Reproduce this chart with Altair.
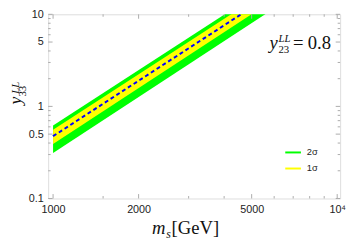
import altair as alt
import pandas as pd

# ---- data ----
m_ends = [1000, 6000]
center = [0.475, 17.1]
sig1_lo = [0.39, 14.5]
sig1_hi = [0.558, 20.1]
sig2_lo = [0.311, 11.6]
sig2_hi = [0.619, 22.3]
band_names = ["2σ", "1σ"]
band_colors = ["#00ff00", "#ffff00"]

x_major = [1000, 2000, 5000, 10000]
x_minor = [1500, 3000, 4000, 6000, 7000, 8000, 9000]
y_major = [0.1, 0.5, 1, 5, 10]
y_minor = [0.2, 0.3, 0.4, 0.6, 0.7, 0.8, 0.9, 2, 3, 4, 6, 7, 8, 9]

W, H = 298, 188
FRAME = "#ababab"
LBL = "#222222"
SERIF = "Liberation Serif"
SANS = "Liberation Sans"

xscale = alt.Scale(type="log", domain=[961, 10240], nice=False)
yscale = alt.Scale(type="log", domain=[0.1, 10], nice=False)

bands = pd.DataFrame({"m": m_ends, "c": center, "lo1": sig1_lo, "hi1": sig1_hi,
                      "lo2": sig2_lo, "hi2": sig2_hi})

xaxis = alt.Axis(values=x_major, title=None, ticks=False, tickSize=0, domain=False, grid=False,
                 labelFont=SANS, labelFontSize=11, labelColor=LBL, labelPadding=5,
                 labelExpr="datum.value >= 10000 ? '10⁴' : format(datum.value, 'd')")
yaxis = alt.Axis(values=y_major, title=None, ticks=False, tickSize=0, domain=False, grid=False,
                 labelFont=SANS, labelFontSize=11, labelColor=LBL, labelPadding=5,
                 format="~g")

# legend carrier layer (hidden under the bands)
leg_df = pd.DataFrame({
    "m": m_ends * 2,
    "v": center * 2,
    "band": [band_names[0]] * 2 + [band_names[1]] * 2,
})
legend_layer = alt.Chart(leg_df).mark_line(strokeWidth=2, clip=True).encode(
    x=alt.X("m:Q", scale=xscale, axis=xaxis),
    y=alt.Y("v:Q", scale=yscale, axis=yaxis),
    color=alt.Color("band:N", scale=alt.Scale(domain=band_names, range=band_colors),
                    sort=band_names,
                    legend=alt.Legend(title=None, orient="none", legendX=241, legendY=132,
                                      symbolType="stroke", symbolSize=256, symbolStrokeWidth=2,
                                      labelFont=SANS, labelFontSize=9.5, labelColor=LBL,
                                      labelOffset=5, rowPadding=2.4, padding=0)),
    detail="band:N",
)

green = alt.Chart(bands).mark_area(color=band_colors[0], clip=True).encode(
    x=alt.X("m:Q", scale=xscale, axis=xaxis),
    y=alt.Y("lo2:Q", scale=yscale, axis=yaxis),
    y2="hi2:Q",
)
yellow = alt.Chart(bands).mark_area(color=band_colors[1], clip=True).encode(
    x=alt.X("m:Q", scale=xscale, axis=xaxis),
    y=alt.Y("lo1:Q", scale=yscale, axis=yaxis),
    y2="hi1:Q",
)
dashed = alt.Chart(bands).mark_line(color="#0000ff", strokeWidth=2, strokeDash=[4, 3],
                                    clip=True).encode(
    x=alt.X("m:Q", scale=xscale, axis=xaxis),
    y=alt.Y("c:Q", scale=yscale, axis=yaxis),
)


def xticks(vals, L):
    d = pd.DataFrame({"v": vals})
    bot = alt.Chart(d).mark_rule(color=FRAME, strokeWidth=1).encode(
        x=alt.X("v:Q", scale=xscale, axis=xaxis), y=alt.value(H), y2=alt.value(H - L))
    top = alt.Chart(d).mark_rule(color=FRAME, strokeWidth=1).encode(
        x=alt.X("v:Q", scale=xscale, axis=xaxis), y=alt.value(0), y2=alt.value(L))
    return [bot, top]


def yticks(vals, L):
    d = pd.DataFrame({"v": vals})
    lft = alt.Chart(d).mark_rule(color=FRAME, strokeWidth=1).encode(
        y=alt.Y("v:Q", scale=yscale, axis=yaxis), x=alt.value(0), x2=alt.value(L))
    rgt = alt.Chart(d).mark_rule(color=FRAME, strokeWidth=1).encode(
        y=alt.Y("v:Q", scale=yscale, axis=yaxis), x=alt.value(W), x2=alt.value(W - L))
    return [lft, rgt]


ticks = xticks(x_major, 4.5) + xticks(x_minor, 2.5) + yticks(y_major, 4.5) + yticks(y_minor, 2.5)


def txt(s, x, y, size, italic=False, angle=0, font=SERIF):
    kw = dict(x=x, y=y, fontSize=size, font=font, align="left", baseline="alphabetic",
              color="#111111", fontStyle="italic" if italic else "normal")
    if angle:
        kw["angle"] = angle
    return alt.Chart(pd.DataFrame({"t": [s]})).mark_text(**kw).encode(text="t:N")


texts = [
    # y-axis title  y_33^LL
    txt("y", -27.5, 92, 18, italic=True, angle=270),
    txt("33", -22.5, 84, 11, angle=270),
    txt("LL", -29.5, 81, 11, italic=True, angle=270),
    # x-axis title  m_s [GeV]
    txt("m", 106, 224, 19, italic=True),
    txt("s", 120.5, 228, 12, italic=True),
    txt("[GeV]", 126, 224, 19),
    # annotation y_23^LL = 0.8
    txt("y", 226, 35, 19, italic=True),
    txt("LL", 235, 28, 11, italic=True),
    txt("23", 235, 39, 11),
    txt("=", 250, 35, 19),
    txt("0.8", 265, 35, 19),
]

chart = alt.layer(legend_layer, green, yellow, dashed, *ticks, *texts).properties(
    width=W, height=H,
    autosize=alt.AutoSizeParams(type="none"),
    padding={"left": 41, "top": 4, "right": 6, "bottom": 44},
).configure_view(stroke=FRAME, strokeWidth=1).configure(background="white")

chart.save("out.html", embed_options={"renderer": "svg", "actions": False})
